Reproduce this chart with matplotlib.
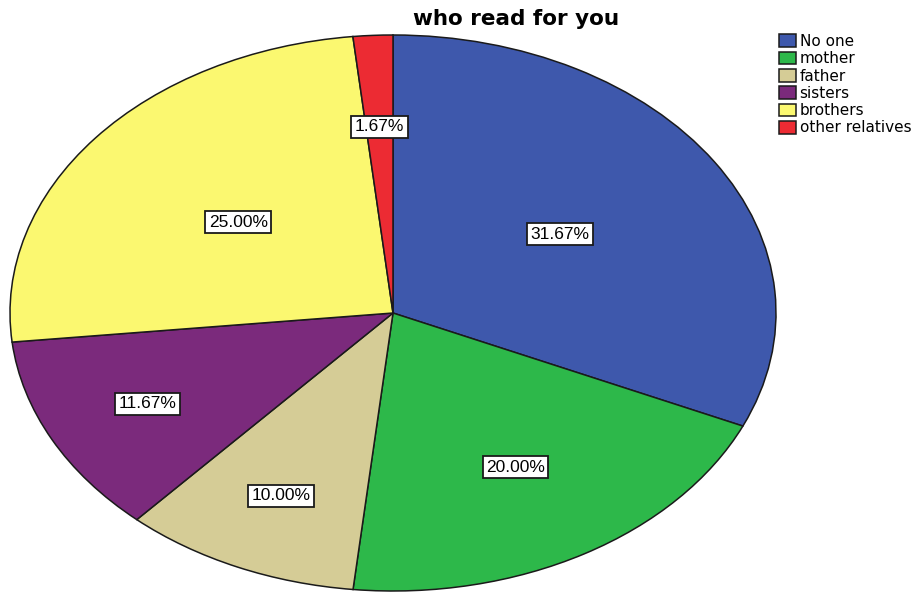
import matplotlib.pyplot as plt
from matplotlib.patches import Patch
import numpy as np

plt.rcParams['font.family'] = ['Liberation Sans', 'DejaVu Sans']

labels = ['No one', 'mother', 'father', 'sisters', 'brothers', 'other relatives']
percents = [31.67, 20.00, 10.00, 11.67, 25.00, 1.67]
colors = ['#3e58ac', '#2db84a', '#d5cc96', '#7b2a7c', '#fbf870', '#ec2b33']
label_radius = [0.52, 0.64, 0.72, 0.72, 0.52, 0.67]

W, H = 915, 592
fig = plt.figure(figsize=(W / 100, H / 100), dpi=100)
# elliptical pie: axes box in pixels
left, right, top, bottom = 10, 776, 35, 591
ax = fig.add_axes([left / W, 1 - bottom / H, (right - left) / W, (bottom - top) / H])

wedges, _ = ax.pie(percents, colors=colors, startangle=90, counterclock=False,
                   wedgeprops=dict(edgecolor='#1a1a1a', linewidth=1.1))
ax.set_aspect('auto')
ax.set_xlim(-1, 1)
ax.set_ylim(-1, 1)
ax.axis('off')

# percent labels in white boxes
for w, p, r in zip(wedges, percents, label_radius):
    ang = np.deg2rad((w.theta1 + w.theta2) / 2)
    ax.text(r * np.cos(ang), r * np.sin(ang), f'{p:.2f}%', ha='center', va='center',
            fontsize=12.5,
            bbox=dict(boxstyle='square,pad=0.2', facecolor='white', edgecolor='#1a1a1a', linewidth=1.3))

fig.text(516 / W, 1 - 19 / H, 'who read for you', ha='center', va='center',
         fontsize=15.5, fontweight='bold', family='DejaVu Sans')

handles = [Patch(facecolor=c, edgecolor='#1a1a1a', linewidth=1.1) for c in colors]
fig.legend(handles, labels, loc='upper left', bbox_to_anchor=(779 / W, 1 - 34 / H),
           frameon=False, prop={'family': 'DejaVu Sans', 'size': 11},
           handlelength=1.1, handleheight=0.9,
           handletextpad=0.25, labelspacing=0.15, borderaxespad=0, borderpad=0)

fig.savefig('out.png', dpi=100)
